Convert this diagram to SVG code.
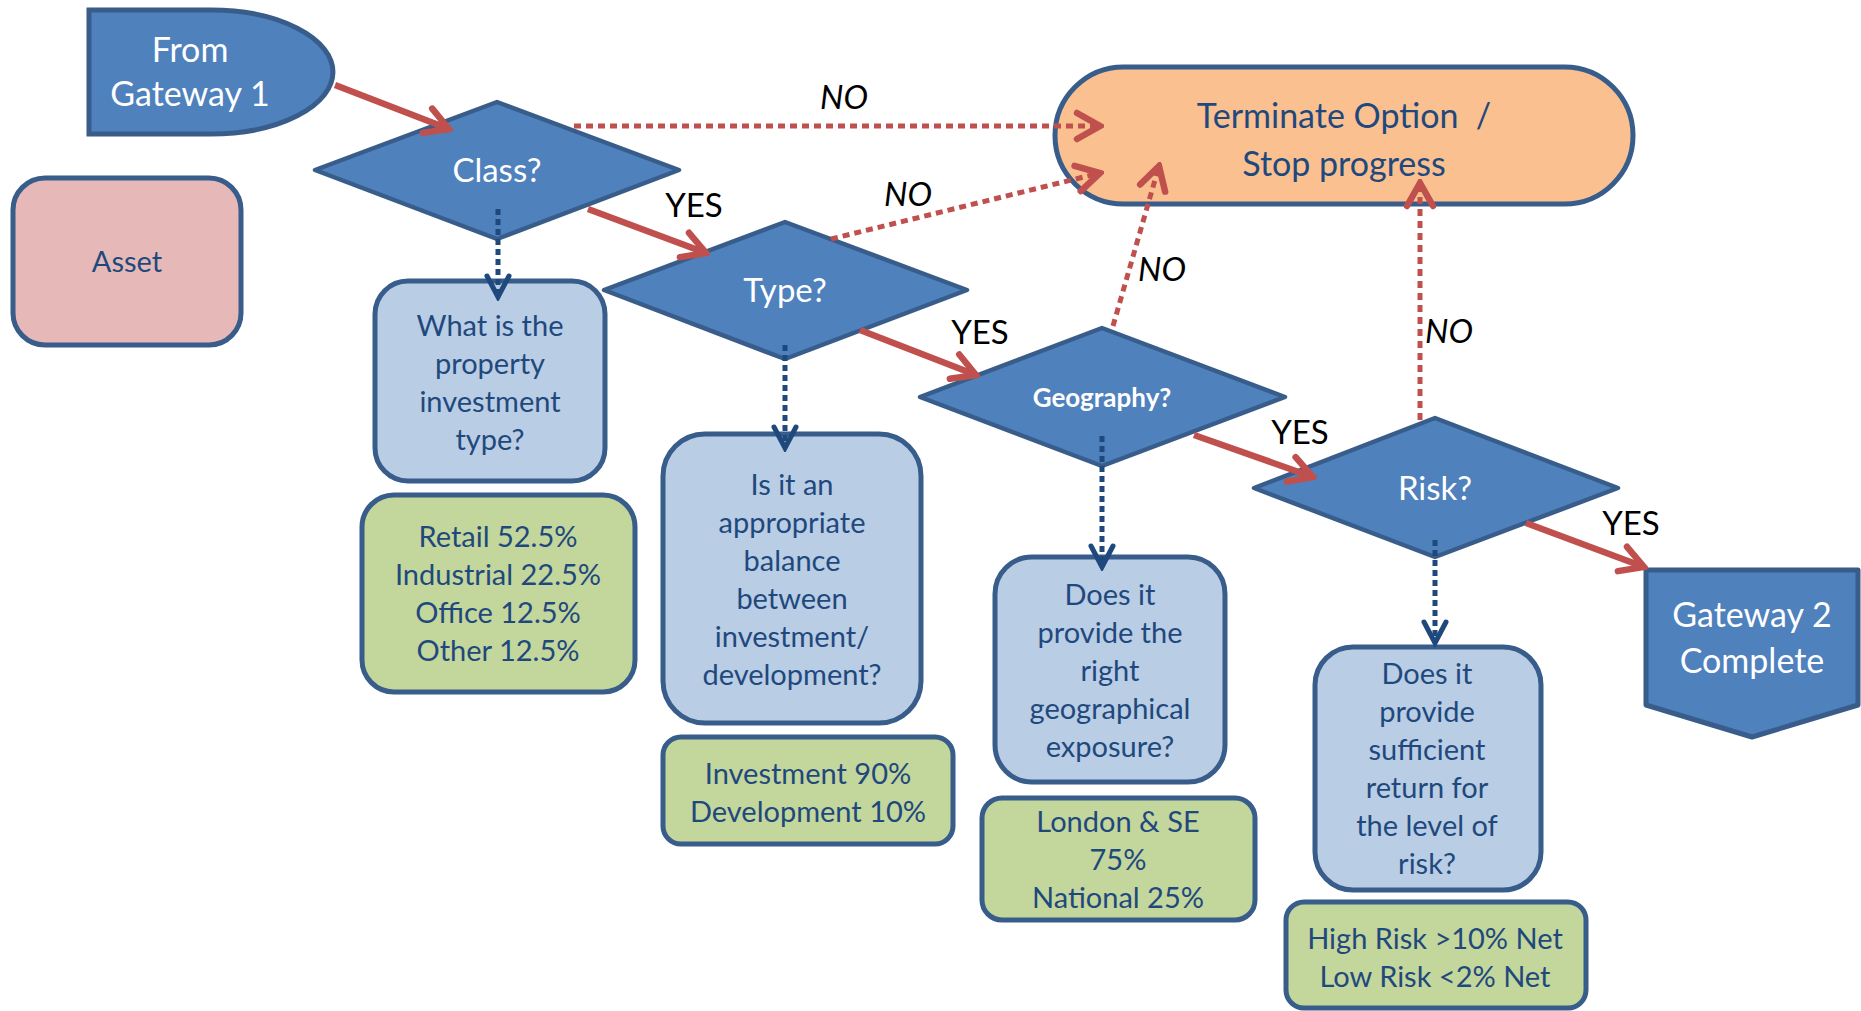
<svg xmlns="http://www.w3.org/2000/svg" width="1861" height="1011" viewBox="0 0 1861 1011">
<style>
.dia{fill:#4F81BD;stroke:#385D8A;stroke-width:4.5;stroke-linejoin:round}
.lb{fill:#B9CDE5;stroke:#385D8A;stroke-width:5}
.gr{fill:#C3D69B;stroke:#385D8A;stroke-width:5}
.t{font-family:Lato,'Noto Sans',sans-serif;text-anchor:middle}
.bt{font-size:29px;fill:#1F497D}
.wt{fill:#FFFFFF}
.lbl{font-size:33px;fill:#000}
.no{font-style:italic}
.red{fill:none;stroke:#C0504D;stroke-width:6.5}
.rdot{fill:none;stroke:#C0504D;stroke-width:5;stroke-dasharray:7 5}
.bdot{fill:none;stroke:#1F497D;stroke-width:5;stroke-dasharray:6 4}
</style>
<defs>
<marker id="ar" viewBox="-32 -18 36 36" refX="0" refY="0" markerWidth="36" markerHeight="36" markerUnits="userSpaceOnUse" orient="auto">
<path d="M-23,-13 L0,0 L-23,13" fill="none" stroke="#C0504D" stroke-width="6.5" stroke-linecap="round" stroke-dasharray="none"/>
</marker>
<marker id="ab" viewBox="-28 -15 32 30" refX="0" refY="0" markerWidth="32" markerHeight="30" markerUnits="userSpaceOnUse" orient="auto">
<path d="M-21,-11 L0,0 L-21,11" fill="none" stroke="#1F497D" stroke-width="5" stroke-linecap="round" stroke-dasharray="none"/>
</marker>
</defs>

<g id="from-gateway1">
<path d="M89,10 L211,10 A122,62 0 0 1 211,134 L89,134 Z" fill="#4F81BD" stroke="#385D8A" stroke-width="5"/>
<text class="t wt" font-size="34" x="190" y="62">From</text>
<text class="t wt" font-size="34" x="190" y="106">Gateway 1</text>
</g>

<g id="asset">
<rect x="13" y="178" width="228" height="167" rx="32" fill="#E6B9B8" stroke="#385D8A" stroke-width="5"/>
<text class="t bt" font-size="28" x="127" y="272">Asset</text>
</g>

<g id="terminate">
<rect x="1055" y="67" width="578" height="137" rx="68.5" fill="#FAC090" stroke="#385D8A" stroke-width="5"/>
<text class="t" font-size="34" fill="#1F497D" x="1344" y="128" xml:space="preserve">Terminate Option  /</text>
<text class="t" font-size="34" fill="#1F497D" x="1344" y="176">Stop progress</text>
</g>

<g id="class">
<polygon class="dia" points="315,170 497,102 679,170 497,239"/>
<text class="t wt" font-size="33" x="497" y="182">Class?</text>
</g>

<g id="type">
<polygon class="dia" points="604,290 785,222 967,290 785,359"/>
<text class="t wt" font-size="33" x="785" y="302">Type?</text>
</g>

<g id="geography">
<polygon class="dia" points="920,397 1102,328 1285,397 1102,466"/>
<text class="t wt" font-size="26" font-weight="bold" x="1102" y="407">Geography?</text>
</g>

<g id="risk">
<polygon class="dia" points="1254,488 1435,418 1618,488 1435,557"/>
<text class="t wt" font-size="33" x="1435" y="500">Risk?</text>
</g>

<g id="gateway2">
<path d="M1646,570 L1858,570 L1858,705 L1752,737 L1646,705 Z" fill="#4F81BD" stroke="#385D8A" stroke-width="5" stroke-linejoin="round"/>
<text class="t wt" font-size="34" x="1752" y="627">Gateway 2</text>
<text class="t wt" font-size="34" x="1752" y="673">Complete</text>
</g>

<g id="q-class">
<rect class="lb" x="375" y="281" width="230" height="200" rx="33"/>
<text class="t bt" x="490" y="336"><tspan x="490">What is the</tspan><tspan x="490" dy="38">property</tspan><tspan x="490" dy="38">investment</tspan><tspan x="490" dy="38">type?</tspan></text>
</g>

<g id="a-class">
<rect class="gr" x="362" y="495" width="273" height="197" rx="32"/>
<text class="t bt" x="498" y="547"><tspan x="498">Retail 52.5%</tspan><tspan x="498" dy="38">Industrial 22.5%</tspan><tspan x="498" dy="38">Office 12.5%</tspan><tspan x="498" dy="38">Other 12.5%</tspan></text>
</g>

<g id="q-type">
<rect class="lb" x="663" y="434" width="258" height="289" rx="42"/>
<text class="t bt" x="792" y="495"><tspan x="792">Is it an</tspan><tspan x="792" dy="38">appropriate</tspan><tspan x="792" dy="38">balance</tspan><tspan x="792" dy="38">between</tspan><tspan x="792" dy="38">investment/</tspan><tspan x="792" dy="38">development?</tspan></text>
</g>

<g id="a-type">
<rect class="gr" x="663" y="737" width="290" height="107" rx="18"/>
<text class="t bt" x="808" y="784"><tspan x="808">Investment 90%</tspan><tspan x="808" dy="38">Development 10%</tspan></text>
</g>

<g id="q-geo">
<rect class="lb" x="995" y="557" width="230" height="225" rx="37"/>
<text class="t bt" x="1110" y="605"><tspan x="1110">Does it</tspan><tspan x="1110" dy="38">provide the</tspan><tspan x="1110" dy="38">right</tspan><tspan x="1110" dy="38">geographical</tspan><tspan x="1110" dy="38">exposure?</tspan></text>
</g>

<g id="a-geo">
<rect class="gr" x="982" y="798" width="273" height="122" rx="20"/>
<text class="t bt" x="1118" y="832"><tspan x="1118">London &amp; SE</tspan><tspan x="1118" dy="38">75%</tspan><tspan x="1118" dy="38">National 25%</tspan></text>
</g>

<g id="q-risk">
<rect class="lb" x="1315" y="647" width="226" height="243" rx="38"/>
<text class="t bt" x="1427" y="684"><tspan x="1427">Does it</tspan><tspan x="1427" dy="38">provide</tspan><tspan x="1427" dy="38">sufficient</tspan><tspan x="1427" dy="38">return for</tspan><tspan x="1427" dy="38">the level of</tspan><tspan x="1427" dy="38">risk?</tspan></text>
</g>

<g id="a-risk">
<rect class="gr" x="1286" y="902" width="300" height="106" rx="18"/>
<text class="t bt" x="1435" y="949"><tspan x="1435">High Risk &gt;10% Net</tspan><tspan x="1435" dy="38">Low Risk &lt;2% Net</tspan></text>
</g>

<g id="connectors">
<line class="red" x1="335" y1="85" x2="449" y2="129" marker-end="url(#ar)"/>
<line class="red" x1="588" y1="209" x2="706" y2="253" marker-end="url(#ar)"/>
<line class="red" x1="860" y1="330" x2="976" y2="375" marker-end="url(#ar)"/>
<line class="red" x1="1194" y1="435" x2="1313" y2="477" marker-end="url(#ar)"/>
<line class="red" x1="1526" y1="523" x2="1644" y2="567" marker-end="url(#ar)"/>

<line class="rdot" x1="574" y1="126" x2="1100" y2="126" marker-end="url(#ar)"/>
<line class="rdot" x1="831" y1="239" x2="1100" y2="173" marker-end="url(#ar)"/>
<line class="rdot" x1="1113" y1="326" x2="1159" y2="166" marker-end="url(#ar)"/>
<line class="rdot" x1="1420" y1="420" x2="1420" y2="183" marker-end="url(#ar)"/>

<line class="bdot" x1="498" y1="209" x2="498" y2="297" marker-end="url(#ab)"/>
<line class="bdot" x1="785" y1="345" x2="785" y2="448" marker-end="url(#ab)"/>
<line class="bdot" x1="1102" y1="436" x2="1102" y2="567" marker-end="url(#ab)"/>
<line class="bdot" x1="1435" y1="540" x2="1435" y2="643" marker-end="url(#ab)"/>

<text class="t lbl" x="694" y="217">YES</text>
<text class="t lbl" x="980" y="344">YES</text>
<text class="t lbl" x="1300" y="444">YES</text>
<text class="t lbl" x="1631" y="535">YES</text>
<text class="t lbl no" x="844" y="109">NO</text>
<text class="t lbl no" x="908" y="206">NO</text>
<text class="t lbl no" x="1162" y="281">NO</text>
<text class="t lbl no" x="1449" y="343">NO</text>
</g>
</svg>
